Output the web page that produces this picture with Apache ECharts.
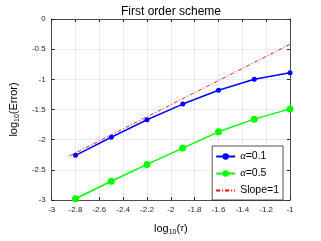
<!DOCTYPE html>
<html><head><meta charset="utf-8">
<script src="https://cdn.jsdelivr.net/npm/echarts@6/dist/echarts.min.js"></script>
<style>html,body{margin:0;padding:0;background:#fff}#c{width:321px;height:241px}</style>
</head><body><div id="c"></div>
<script>
const tau = [-2.8, -2.5, -2.2, -1.9, -1.6, -1.3, -1.0];
const errA01 = [-2.26, -1.96, -1.67, -1.41, -1.18, -1.00, -0.89];
const errA05 = [-2.98, -2.69, -2.41, -2.14, -1.87, -1.66, -1.49];
const slopeX = [-2.85, -1.0];
const slopeY = [-2.27, -0.42];
const xTicks = [-3, -2.8, -2.6, -2.4, -2.2, -2, -1.8, -1.6, -1.4, -1.2, -1];
const yTicks = [0, -0.5, -1, -1.5, -2, -2.5, -3];

const chart = echarts.init(document.getElementById('c'));
const pair = (xs, ys) => xs.map((x, i) => [x, ys[i]]);
const axCol = '#262626';
const gridCol = '#e6e6e6';
const lbl = {fontSize: 8, color: '#262626', fontFamily: 'Liberation Sans, Arial, sans-serif'};
const fmt = v => String(Math.round(v * 10) / 10);
chart.setOption({
  animation: false,
  title: {text: 'First order scheme', left: 166, top: 1, textAlign: 'center',
    textStyle: {fontSize: 12, fontWeight: 'normal', color: '#000', fontFamily: 'Liberation Sans, Arial, sans-serif'}},
  grid: {left: 42, right: 31, top: 19, bottom: 35, show: false},
  xAxis: [{
    type: 'value', min: -3, max: -1, interval: 0.2, position: 'bottom',
    axisLine: {show: true, onZero: false, lineStyle: {color: axCol, width: 0.8}},
    axisTick: {show: true, inside: true, length: 3, lineStyle: {color: axCol}},
    axisLabel: Object.assign({formatter: fmt, margin: 6}, lbl),
    splitLine: {show: true, lineStyle: {color: gridCol, width: 0.8}},
    name: '{a|log}{s|10}{a|(}{t|τ}{a|)}', nameLocation: 'middle', nameGap: 21,
    nameTextStyle: {rich: {a: {fontSize: 11, color: '#000', fontFamily: 'Liberation Sans, Arial'},
      s: {fontSize: 7, color: '#000', verticalAlign: 'bottom', padding: [8, 0, 0, 0]},
      t: {fontSize: 11, color: '#000', fontStyle: 'italic', fontFamily: 'Liberation Serif, serif'}}}
  }, {
    type: 'value', min: -3, max: -1, interval: 0.2, position: 'top',
    axisLine: {show: true, onZero: false, lineStyle: {color: axCol, width: 0.8}},
    axisTick: {show: true, inside: true, length: 3, lineStyle: {color: axCol}},
    axisLabel: {show: false}, splitLine: {show: false}
  }],
  yAxis: [{
    type: 'value', min: -3, max: 0, interval: 0.5, position: 'left',
    axisLine: {show: true, onZero: false, lineStyle: {color: axCol, width: 0.8}},
    axisTick: {show: true, inside: true, length: 3, lineStyle: {color: axCol}},
    axisLabel: Object.assign({formatter: fmt, margin: 6}, lbl),
    splitLine: {show: true, lineStyle: {color: gridCol, width: 0.8}},
    name: '{a|log}{s|10}{a|(Error)}', nameLocation: 'middle', nameGap: 26, nameRotate: 90,
    nameTextStyle: {rich: {a: {fontSize: 11, color: '#000', fontFamily: 'Liberation Sans, Arial'},
      s: {fontSize: 7, color: '#000', verticalAlign: 'bottom', padding: [8, 0, 0, 0]}}}
  }, {
    type: 'value', min: -3, max: 0, interval: 0.5, position: 'right',
    axisLine: {show: true, onZero: false, lineStyle: {color: axCol, width: 0.8}},
    axisTick: {show: true, inside: true, length: 3, lineStyle: {color: axCol}},
    axisLabel: {show: false}, splitLine: {show: false}
  }],
  legend: {
    right: 38, bottom: 41, orient: 'vertical', itemWidth: 19, itemHeight: 8, itemGap: 6,
    padding: [5, 4, 4, 3], borderColor: '#262626', borderWidth: 0.8, backgroundColor: '#fff',
    textStyle: {fontSize: 10.5, color: '#000', fontFamily: 'Liberation Sans, Arial',
      rich: {g: {fontSize: 10.5, fontFamily: 'Liberation Serif, serif', fontStyle: 'italic'}}},
    formatter: n => n === 'a1' ? '{g|α}=0.1' : n === 'a5' ? '{g|α}=0.5' : 'Slope=1',
    data: ['a1', 'a5', {name: 's', itemStyle: {opacity: 0}}]
  },
  series: [
    {name: 'a1', type: 'line', data: pair(tau, errA01), symbol: 'circle', symbolSize: 5,
      color: '#0000ff', lineStyle: {width: 1.5, color: '#0000ff'}, itemStyle: {color: '#0000ff'}, z: 3},
    {name: 'a5', type: 'line', data: pair(tau, errA05), symbol: 'circle', symbolSize: 7,
      color: '#00ff00', lineStyle: {width: 1.5, color: '#00ff00'}, itemStyle: {color: '#00ff00'}, z: 3},
    {name: 's', type: 'line', data: pair(slopeX, slopeY), symbol: 'none', color: '#ff0000',
      lineStyle: {width: 0.9, color: '#ff0000', type: [4, 2, 1, 2]}, itemStyle: {color: '#ff0000'}, z: 2}
  ]
});
</script></body></html>
